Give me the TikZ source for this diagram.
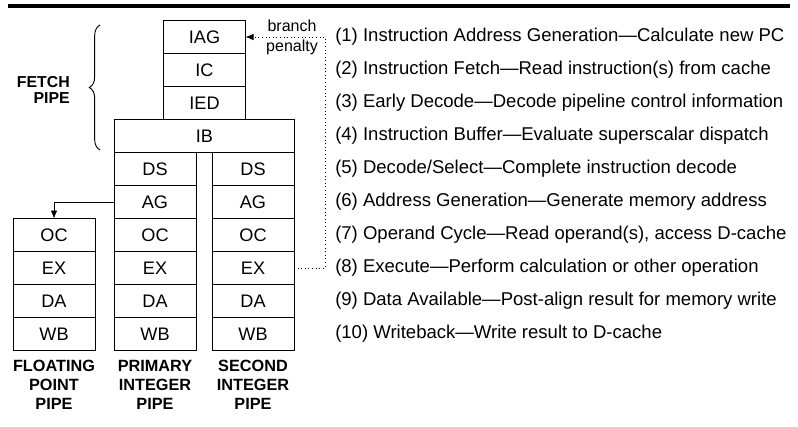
\documentclass[tikz,border=0pt]{standalone}
\usepackage{fontspec}
\setmainfont{Liberation Sans}
\usepackage{tikz}
\usetikzlibrary{arrows.meta, positioning, decorations.pathreplacing}

\tikzset{
  stage/.style={draw, line width=0.7pt, minimum width=61.5pt, minimum height=24.75pt, inner sep=0pt, outer sep=0pt, font=\fontsize{13.6}{15}\selectfont},
  pipename/.style={anchor=north, align=center, inner sep=0pt, font=\fontsize{12.2}{14.25}\selectfont\bfseries},
  note/.style={anchor=west, inner sep=0pt, font=\fontsize{13.9}{15}\selectfont},
}

\begin{document}
\begin{tikzpicture}[x=0.75pt, y=-0.75pt]
\useasboundingbox (0,0) rectangle (798,426);
% The rule on top
\draw[line width=2.5pt] (8,6) -- (790,6);
% The fetch pipe
\node[stage] (iag) at (204.5,37) {IAG};
\node[stage, below=0pt of iag] (ic) {IC};
\node[stage, below=0pt of ic] (ied) {IED};
\node[stage, minimum width=135pt, below=0pt of ied] (ib) {IB};
\node[align=right, anchor=east, inner sep=0pt, font=\fontsize{11.9}{12}\selectfont\bfseries] (fetch) at (70,90) {FETCH\\PIPE};
\draw[line width=0.7pt, decorate, decoration={brace, amplitude=8pt}] (100,150) -- (100,25);
% The integer pipes
\foreach \pipe/\x in {pri/155, sec/253}
  \foreach \st [count=\i] in {DS, AG, OC, EX, DA, WB}
    \node[stage] (\pipe\st) at (\x,136+33*\i) {\st};
% The floating point pipe
\foreach \st [count=\i from 3] in {OC, EX, DA, WB}
  \node[stage] (fp\st) at (54,136+33*\i) {\st};
\node[pipename] (fpname) at (54,360) {FLOATING\\POINT\\PIPE};
\node[pipename] (priname) at (155,360) {PRIMARY\\INTEGER\\PIPE};
\node[pipename] (secname) at (253,360) {SECOND\\INTEGER\\PIPE};
% The arrows
\draw[line width=0.7pt, -{Latex[length=6pt, width=5pt]}] (priAG.west) -| (fpOC.north);
\coordinate (bend) at (325,37);
\draw[line width=0.7pt, dotted, -{Latex[length=6pt, width=5pt]}] (secEX.east) -| (bend) -- (iag.east);
\node[align=center, inner sep=0pt, font=\fontsize{12}{15}\selectfont] (penalty) at (292,37) {branch\\penalty};
% The stage list
\foreach \txt [count=\i] in {
  {(1) Instruction Address Generation—Calculate new PC},
  {(2) Instruction Fetch—Read instruction(s) from cache},
  {(3) Early Decode—Decode pipeline control information},
  {(4) Instruction Buffer—Evaluate superscalar dispatch},
  {(5) Decode/Select—Complete instruction decode},
  {(6) Address Generation—Generate memory address},
  {(7) Operand Cycle—Read operand(s), access D-cache},
  {(8) Execute—Perform calculation or other operation},
  {(9) Data Available—Post-align result for memory write},
  {(10) Writeback—Write result to D-cache}}
  \node[note] (note\i) at (335,4+33*\i) {\txt};
\end{tikzpicture}
\end{document}
